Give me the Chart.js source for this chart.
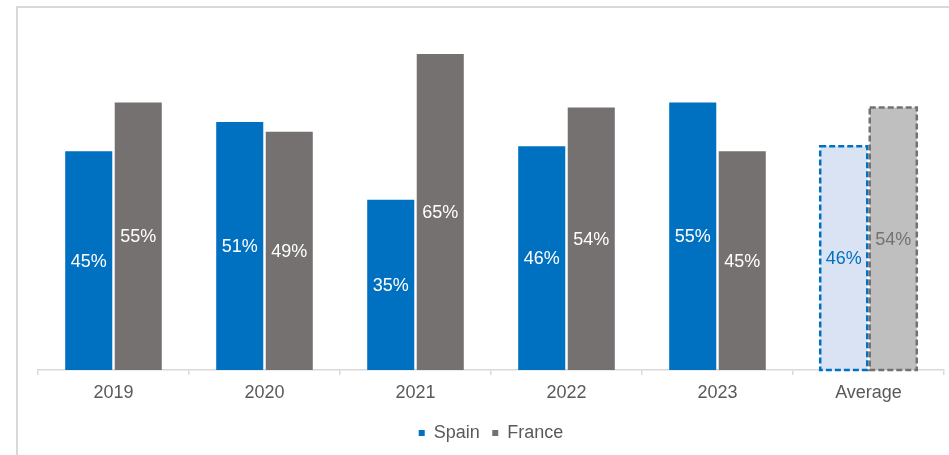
<!DOCTYPE html>
<html>
<head>
<meta charset="utf-8">
<script src="https://cdn.jsdelivr.net/npm/chart.js@4/dist/chart.umd.min.js"></script>
<style>
  html, body { margin: 0; padding: 0; background: #ffffff; }
  #wrap { position: relative; width: 949px; height: 455px; }
</style>
</head>
<body>
<div id="wrap"><canvas id="c" width="949" height="455"></canvas></div>
<script>
const categories = ["2019", "2020", "2021", "2022", "2023", "Average"];
const spainValues = [45, 51, 35, 46, 55, 46];
const franceValues = [55, 49, 65, 54, 45, 54];
const seriesNames = ["Spain", "France"];

const SPAIN = "#0070C0";
const FRANCE = "#767171";
const SPAIN_AVG_FILL = "#DAE3F3";
const FRANCE_AVG_FILL = "#BFBFBF";
const avgIndex = categories.length - 1;
const FONT = "'Liberation Sans', Arial, sans-serif";

function fills(base, avgFill) {
  return categories.map((c, i) => i === avgIndex ? avgFill : base);
}

const frame = {
  id: "frame",
  beforeDraw(chart) {
    const ctx = chart.ctx;
    ctx.save();
    ctx.fillStyle = "#ffffff";
    ctx.fillRect(0, 0, chart.width, chart.height);
    ctx.strokeStyle = "#d9d9d9";
    ctx.lineWidth = 2;
    ctx.beginPath();
    ctx.moveTo(17, chart.height + 5);
    ctx.lineTo(17, 7);
    ctx.lineTo(chart.width + 5, 7);
    ctx.stroke();
    ctx.restore();
  }
};

const labelsAndDash = {
  id: "labelsAndDash",
  afterDatasetsDraw(chart) {
    const ctx = chart.ctx;
    ctx.save();
    chart.data.datasets.forEach((ds, di) => {
      const meta = chart.getDatasetMeta(di);
      meta.data.forEach((bar, i) => {
        const p = bar.getProps(["x", "y", "base", "width"], true);
        if (i === avgIndex) {
          ctx.save();
          ctx.strokeStyle = di === 0 ? SPAIN : FRANCE;
          ctx.lineWidth = 2.5;
          ctx.setLineDash([6, 3]);
          const l = p.x - p.width / 2, t = p.y;
          ctx.strokeRect(l, t, p.width, p.base - p.y);
          ctx.restore();
        }
        const v = ds.data[i];
        ctx.font = "18px " + FONT;
        ctx.textAlign = "center";
        ctx.textBaseline = "middle";
        ctx.fillStyle = i === avgIndex ? (di === 0 ? SPAIN : FRANCE) : "#ffffff";
        ctx.fillText(Math.round(v) + "%", p.x, (p.y + p.base) / 2 + 1);
      });
    });
    ctx.restore();
  }
};

new Chart(document.getElementById("c"), {
  type: "bar",
  data: {
    labels: categories,
    datasets: [
      {
        label: seriesNames[0],
        data: spainValues,
        backgroundColor: fills(SPAIN, SPAIN_AVG_FILL),
        borderWidth: 0,
        categoryPercentage: 0.656,
        barPercentage: 0.95
      },
      {
        label: seriesNames[1],
        data: franceValues,
        backgroundColor: fills(FRANCE, FRANCE_AVG_FILL),
        borderWidth: 0,
        categoryPercentage: 0.656,
        barPercentage: 0.95
      }
    ]
  },
  options: {
    responsive: false,
    animation: false,
    devicePixelRatio: 1,
    layout: { padding: { left: 38, right: 5, top: 29.7, bottom: 3 } },
    scales: {
      x: {
        grid: {
          offset: true,
          drawOnChartArea: false,
          drawTicks: true,
          tickLength: 5,
          color: "#d9d9d9",
          lineWidth: 1.5
        },
        border: { display: true, color: "#d9d9d9", width: 1.5 },
        ticks: {
          color: "#595959",
          font: { family: FONT, size: 18 },
          padding: 7.5,
          maxRotation: 0
        }
      },
      y: {
        display: false,
        min: 0,
        max: 70
      }
    },
    plugins: {
      tooltip: { enabled: false },
      legend: {
        position: "bottom",
        labels: {
          color: "#595959",
          font: { family: FONT, size: 18 },
          boxWidth: 6,
          boxHeight: 6,
          padding: 12.5,
          generateLabels(chart) {
            return chart.data.datasets.map((ds, i) => ({
              text: ds.label,
              fillStyle: i === 0 ? SPAIN : FRANCE,
              strokeStyle: i === 0 ? SPAIN : FRANCE,
              lineWidth: 0,
              hidden: false,
              datasetIndex: i,
              fontColor: "#595959"
            }));
          }
        }
      }
    }
  },
  plugins: [frame, labelsAndDash]
});
</script>
</body>
</html>
